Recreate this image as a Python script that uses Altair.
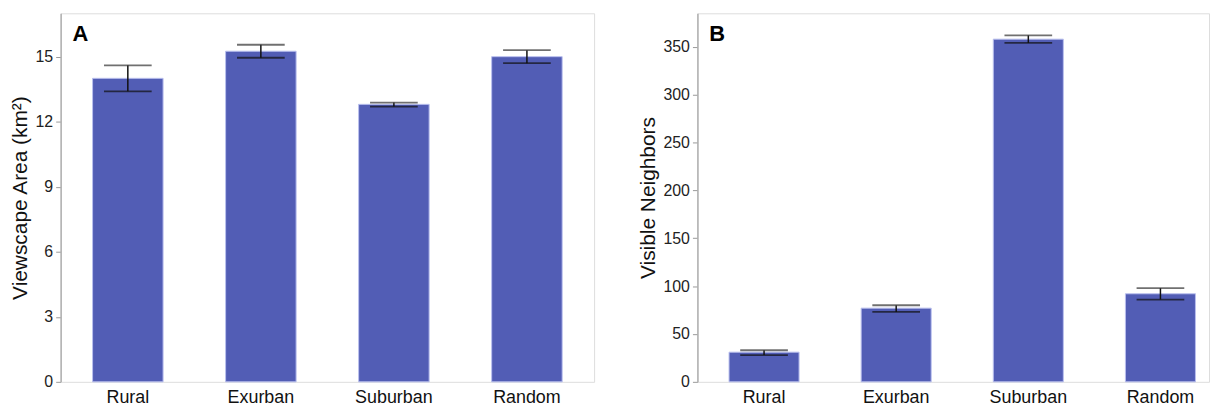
import altair as alt
import pandas as pd

categories = ["Rural", "Exurban", "Suburban", "Random"]

area_mean = [14.0, 15.25, 12.8, 15.0]
area_lo = [13.4, 14.95, 12.7, 14.7]
area_hi = [14.6, 15.55, 12.88, 15.3]

nb_mean = [31, 77, 358, 92]
nb_lo = [28, 73, 354, 86]
nb_hi = [33, 80, 362, 98]

FONT = "Liberation Sans"
BAR = "#525db5"
BAR_STROKE = "#b9c0ee"


def panel(mean, lo, hi, letter, ytitle, ymax, ticks, width, po, align):
    df = pd.DataFrame({"cat": categories, "mean": mean, "lo": lo, "hi": hi})
    x = alt.X("cat:N", sort=categories, title=None,
              scale=alt.Scale(paddingInner=0.47, paddingOuter=po, align=align),
              axis=alt.Axis(labelAngle=0, ticks=False, domain=False,
                            labelFontSize=18, labelColor="#111", labelFont=FONT,
                            labelPadding=7))
    yscale = alt.Scale(domain=[0, ymax], nice=False, zero=True)
    yaxis = alt.Axis(values=ticks, grid=False, labelFontSize=16, labelColor="#222",
                     labelFont=FONT, tickColor="#999", domainColor="#b0b0b0",
                     tickSize=5, labelPadding=3, titleFont=FONT, titleFontSize=21,
                     titleFontWeight="normal", titleColor="#111", titlePadding=5,
                     domainWidth=1.5)
    bars = alt.Chart(df).mark_bar(color=BAR, stroke=BAR_STROKE, strokeWidth=1).encode(
        x=x, y=alt.Y("mean:Q", scale=yscale, axis=yaxis, title=ytitle))
    rule = alt.Chart(df).mark_rule(color="#111", strokeWidth=1.5).encode(
        x=alt.X("cat:N", sort=categories), y=alt.Y("lo:Q", scale=yscale), y2="hi:Q")
    cap_lo = alt.Chart(df).mark_tick(color="#111", size=48, thickness=1.8,
                                     orient="horizontal").encode(
        x=alt.X("cat:N", sort=categories), y=alt.Y("lo:Q", scale=yscale))
    cap_hi = alt.Chart(df).mark_tick(color="#333", size=48, thickness=1.8,
                                     orient="horizontal").encode(
        x=alt.X("cat:N", sort=categories), y=alt.Y("hi:Q", scale=yscale))
    label = alt.Chart(pd.DataFrame({"t": [letter]})).mark_text(
        font=FONT, fontSize=22, fontWeight="bold", align="left", baseline="alphabetic",
        color="#000").encode(text="t:N", x=alt.value(12), y=alt.value(28))
    return alt.layer(bars, rule, cap_lo, cap_hi, label).properties(width=width, height=371)


a = panel(area_mean, area_lo, area_hi, "A", "Viewscape Area (km²)", 17.0,
          [0, 3, 6, 9, 12, 15], 537, 0.24, 0.5)
b = panel(nb_mean, nb_lo, nb_hi, "B", "Visible Neighbors", 385,
          [0, 50, 100, 150, 200, 250, 300, 350], 515, 0.171, 0.70)

chart = alt.hconcat(a, b, spacing=41).configure_view(
    stroke="#b0b0b0", strokeWidth=1.5
).configure(background="white").properties(
    padding={"left": 0, "top": 3, "right": 0, "bottom": 0}
)

chart.save("out.html", embed_options={"renderer": "svg", "actions": False})
